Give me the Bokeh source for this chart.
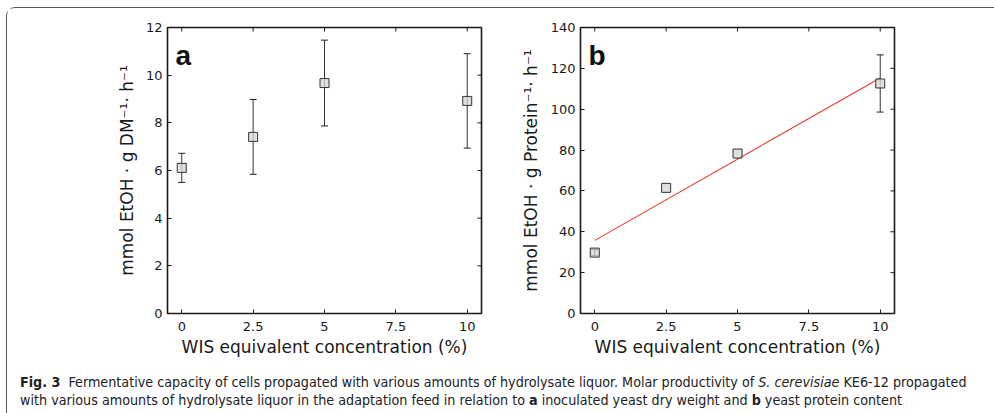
from bokeh.plotting import figure
from bokeh.models import (ColumnDataSource, Whisker, TeeHead, Label,
                          FixedTicker, NumeralTickFormatter, Range1d, Div)
from bokeh.layouts import row, column
from bokeh.embed import file_html
from bokeh.resources import INLINE

# ---- data ----
x_conc = [0, 2.5, 5, 10]
x_ticks = [0, 2.5, 5, 7.5, 10]

prod_dm = [6.11, 7.41, 9.67, 8.92]
err_dm = [0.61, 1.57, 1.80, 1.98]
y_ticks_a = [0, 2, 4, 6, 8, 10, 12]

prod_protein = [29.8, 61.5, 78.3, 112.6]
err_protein = [1.5, 0.0, 0.0, 14.0]
y_ticks_b = [0, 20, 40, 60, 80, 100, 120, 140]

fit_x = [0, 10]
fit_y = [35.8, 115.3]

x_label = "WIS equivalent concentration (%)"
y_label_a = "mmol EtOH \u00b7 g DM\u207b\u00b9\u00b7 h\u207b\u00b9"
y_label_b = "mmol EtOH \u00b7 g Protein\u207b\u00b9\u00b7 h\u207b\u00b9"

X_MIN, X_MAX = -0.5, 10.5
FONT = "DejaVu Sans"
INK = "#1a1a1a"


def style_axis(ax):
    ax.axis_line_color = None
    ax.major_tick_in = 4
    ax.major_tick_out = 0
    ax.minor_tick_line_color = None
    ax.major_tick_line_color = INK
    ax.major_tick_line_width = 1
    ax.major_label_text_font = FONT
    ax.major_label_text_color = INK
    ax.major_label_text_font_size = "13px"
    ax.axis_label_text_font = FONT
    ax.axis_label_text_font_style = "normal"
    ax.axis_label_text_color = INK
    ax.axis_label_text_font_size = "17px"


def make_panel(yvals, errs, yticks, ymax, ylabel, letter, left_border, right_border, fit=None, ystandoff=8):
    p = figure(frame_width=314, frame_height=286,
               min_border_left=left_border, min_border_right=right_border,
               min_border_top=19, min_border_bottom=50,
               x_range=Range1d(X_MIN, X_MAX), y_range=Range1d(0, ymax),
               output_backend="svg", toolbar_location=None)
    p.grid.visible = False
    p.outline_line_color = INK
    p.outline_line_width = 1.6
    p.background_fill_color = "white"
    p.border_fill_color = "white"

    xa = p.xaxis[0]
    xa.ticker = FixedTicker(ticks=x_ticks)
    xa.formatter = NumeralTickFormatter(format="0.[0]")
    style_axis(xa)
    xa.major_label_standoff = 8
    xa.axis_label = x_label
    xa.axis_label_standoff = 3

    ya = p.yaxis[0]
    ya.ticker = FixedTicker(ticks=yticks)
    style_axis(ya)
    ya.major_label_standoff = 5
    ya.axis_label = ylabel
    ya.axis_label_standoff = ystandoff

    # mirrored inward ticks on top and right edges (half of each dash is clipped by the frame)
    p.scatter(x=x_ticks, y=[ymax] * len(x_ticks), marker="dash", size=8, angle=1.5708,
              line_color=INK, line_width=1)
    p.scatter(x=[X_MAX] * len(yticks), y=yticks, marker="dash", size=8,
              line_color=INK, line_width=1)

    if fit is not None:
        p.line(fit[0], fit[1], line_color="#e8392b", line_width=1.1)

    wx = [x for x, e in zip(x_conc, errs) if e > 0]
    wu = [y + e for y, e in zip(yvals, errs) if e > 0]
    wl = [y - e for y, e in zip(yvals, errs) if e > 0]
    wsrc = ColumnDataSource(dict(x=wx, upper=wu, lower=wl))
    w = Whisker(source=wsrc, base="x", upper="upper", lower="lower",
                line_color="#333333", line_width=1,
                upper_head=TeeHead(size=7, line_color="#222222", line_width=1),
                lower_head=TeeHead(size=7, line_color="#222222", line_width=1),
                level="underlay")
    p.add_layout(w)

    src = ColumnDataSource(dict(x=x_conc, y=yvals))
    p.scatter("x", "y", source=src, marker="square", size=9,
              fill_color="#d6d6d6", fill_alpha=0.75,
              line_color="#333333", line_width=1)

    p.add_layout(Label(x=X_MIN, y=ymax, text=letter, x_offset=8, y_offset=-28,
                       text_font="Liberation Sans", text_font_style="bold",
                       text_font_size="28px", text_color="#111111",
                       text_baseline="alphabetic"))
    return p


pa = make_panel(prod_dm, err_dm, y_ticks_a, 12, y_label_a, "a", 160, 20, ystandoff=6)
pb = make_panel(prod_protein, err_protein, y_ticks_b, 140, y_label_b, "b", 79, 90,
                fit=(fit_x, fit_y), ystandoff=7)

caption_html = (
    '<div style="font-family:\'DejaVu Sans Condensed\',\'DejaVu Sans\',sans-serif;'
    'font-stretch:condensed;font-size:14.2px;line-height:18px;color:#222;'
    'white-space:nowrap;padding:5px 0 0 8px;">'
    '<b>Fig.&nbsp;3</b>&nbsp; Fermentative capacity of cells propagated with various amounts of '
    'hydrolysate liquor. Molar productivity of <i>S. cerevisiae</i> KE6-12 propagated<br>'
    'with various amounts of hydrolysate liquor in the adaptation feed in relation to '
    '<b>a</b> inoculated yeast dry weight and <b>b</b> yeast protein content'
    '</div>'
)
caption = Div(text=caption_html, width=986, height=50)

layout = column(row(pa, pb), caption, margin=(7, 0, 0, 6),
                styles={"border-top": "1px solid #555",
                        "border-left": "1px solid #555",
                        "border-top-left-radius": "9px",
                        "background": "white"})

open("out.html", "w").write(file_html(layout, INLINE))
